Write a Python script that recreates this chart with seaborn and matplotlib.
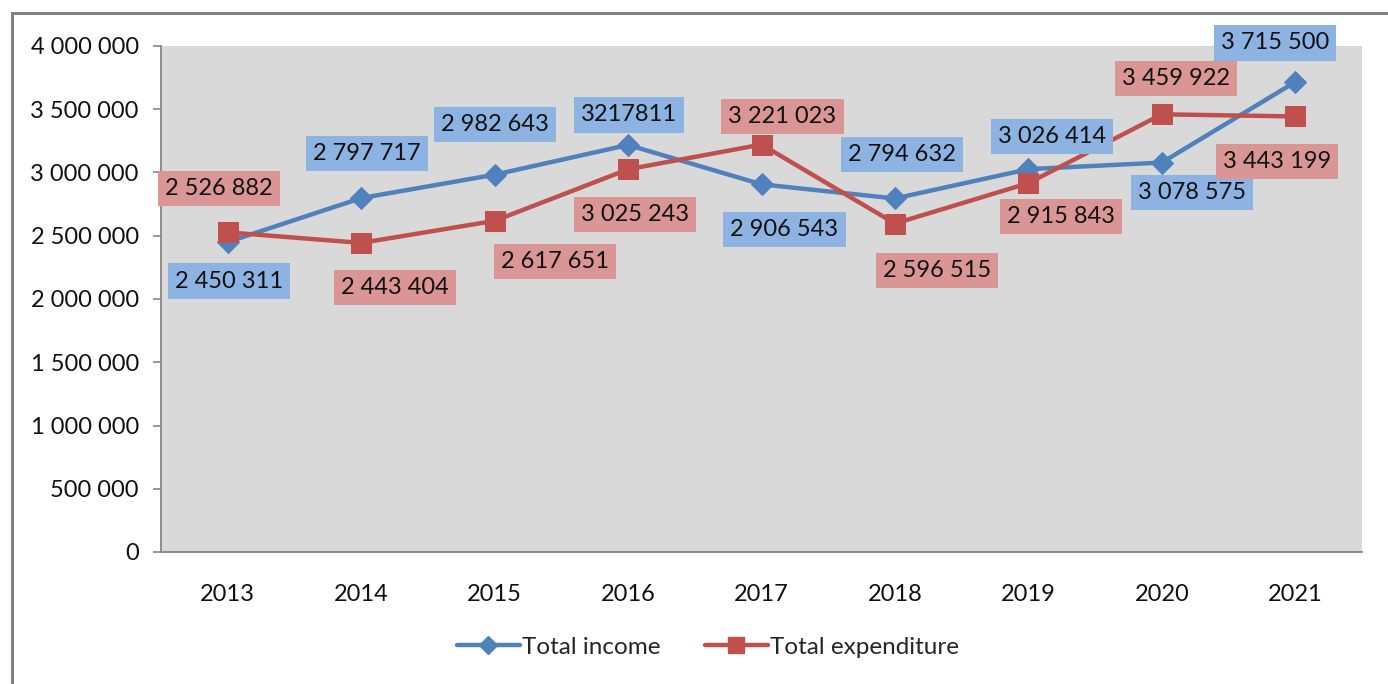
import pandas as pd
import matplotlib.pyplot as plt
import seaborn as sns
from matplotlib.patches import Rectangle
from matplotlib.lines import Line2D

years = [2013, 2014, 2015, 2016, 2017, 2018, 2019, 2020, 2021]
total_income = [2450311, 2797717, 2982643, 3217811, 2906543, 2794632, 3026414, 3078575, 3715500]
total_expenditure = [2526882, 2443404, 2617651, 3025243, 3221023, 2596515, 2915843, 3459922, 3443199]
y_ticks = [0, 500000, 1000000, 1500000, 2000000, 2500000, 3000000, 3500000, 4000000]

# label offsets in pixels (dx, dy) from each marker
income_offsets = [(1, -39), (6, 45), (0, 50), (1, 30), (23, -45), (7, 44), (24, 33), (30, -30), (-20, 39)]
expend_offsets = [(-9, 44), (34, -45), (60, -41), (7, -45), (21, 28), (42, -47), (33, -33), (14, 36), (-18, -45)]

blue, red = "#4F81BD", "#C0504D"
blue_box, red_box = "#8DB3E2", "#DA9694"
txt = "#111111"


def spaced(v):
    return f"{v:,.0f}".replace(",", " ")


income_labels = [spaced(v) for v in total_income]
income_labels[3] = "3217811"  # printed without separators in the source
expend_labels = [spaced(v) for v in total_expenditure]

sns.set_style("white")
plt.rcParams["font.family"] = ["Lato", "DejaVu Sans"]

df = pd.DataFrame({"year": years, "income": total_income, "expenditure": total_expenditure})

fig = plt.figure(figsize=(13.88, 6.84), dpi=100)
ax = fig.add_axes([161 / 1388, 1 - 552 / 684, (1362 - 161) / 1388, (552 - 46) / 684])
ax.set_facecolor("#D9D9D9")

sns.lineplot(data=df, x="year", y="income", ax=ax, color=blue, linewidth=3.2,
             marker="D", markersize=11, markeredgecolor=blue, zorder=3)
sns.lineplot(data=df, x="year", y="expenditure", ax=ax, color=red, linewidth=3.2,
             marker="s", markersize=15, markeredgecolor=red, zorder=4)

for lbls, vals, offs, fc in [(income_labels, total_income, income_offsets, blue_box),
                             (expend_labels, total_expenditure, expend_offsets, red_box)]:
    for x, v, t, (dx, dy) in zip(years, vals, lbls, offs):
        ax.annotate(t, (x, v), xytext=(dx, dy), textcoords="offset pixels",
                    ha="center", va="center", fontsize=17, color=txt, zorder=5,
                    annotation_clip=False,
                    bbox=dict(boxstyle="square,pad=0.3", fc=fc, ec="none"))

ax.set_xlim(2012.5, 2021.5)
ax.set_ylim(0, 4000000)
ax.set_yticks(y_ticks)
ax.set_yticklabels([spaced(v) for v in y_ticks], fontsize=17, color=txt)
ax.set_xticks(years)
ax.set_xticklabels([str(y) for y in years], fontsize=17, color=txt)
ax.set_xticks([y + 0.5 for y in [2012] + years], minor=True)
ax.tick_params(axis="x", which="major", length=0, pad=23)
ax.tick_params(axis="x", which="minor", length=6, width=1.2, color="#868686", direction="out")
ax.tick_params(axis="y", length=6, width=1.2, color="#868686", direction="out", pad=10, left=True)
ax.set_xlabel("")
ax.set_ylabel("")
for s in ["top", "right"]:
    ax.spines[s].set_visible(False)
for s in ["left", "bottom"]:
    ax.spines[s].set_color("#868686")
    ax.spines[s].set_linewidth(1.3)

handles = [Line2D([], [], color=blue, lw=3.2, marker="D", markersize=9, label="Total income"),
           Line2D([], [], color=red, lw=3.2, marker="s", markersize=12, label="Total expenditure")]
fig.legend(handles=handles, loc="center", bbox_to_anchor=(0.51, 1 - 647 / 684), ncol=2,
           frameon=False, fontsize=17.5, handlelength=2.6, handletextpad=0.1, columnspacing=1.8)

top = 1 - 13 / 684
fig.patches.append(Rectangle((12 / 1388, -0.2), 1.2, top + 0.2, transform=fig.transFigure,
                             fill=False, ec="#808080", lw=2.2, clip_on=False))

fig.savefig("out.png", dpi=100)
